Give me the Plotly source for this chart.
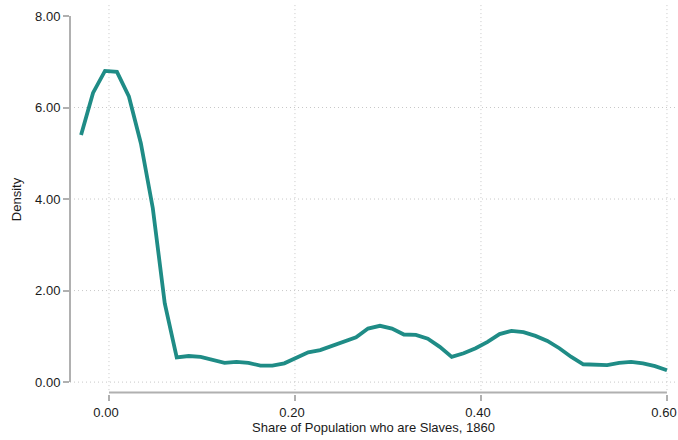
import plotly.graph_objects as go

# Data: kernel density of share of population who are slaves, 1860
x_start = -0.03
x_step = 0.63 / 49
density = [5.40, 6.32, 6.80, 6.78, 6.24, 5.22, 3.80, 1.72, 0.54, 0.57,
           0.55, 0.48, 0.42, 0.44, 0.42, 0.36, 0.36, 0.41, 0.53, 0.65,
           0.70, 0.79, 0.90, 0.98, 1.17, 1.23, 1.17, 1.04, 1.03, 0.95,
           0.77, 0.55, 0.63, 0.74, 0.88, 1.05, 1.12, 1.09, 1.01, 0.90,
           0.74, 0.55, 0.39, 0.37, 0.37, 0.42, 0.44, 0.41, 0.35, 0.26]
share = [x_start + i * x_step for i in range(len(density))]

x_ticks = [0.0, 0.2, 0.4, 0.6]
x_tick_labels = ["0.00", "0.20", "0.40", "0.60"]
y_ticks = [0, 2, 4, 6, 8]
y_tick_labels = ["0.00", "2.00", "4.00", "6.00", "8.00"]
y_grid = [0, 2, 4, 6]

LINE_COLOR = "#1f8c86"
AXIS_COLOR = "#b0b0b0"
GRID_COLOR = "#c8c8c8"
FONT = "Liberation Sans, Arial, sans-serif"

fig = go.Figure()
fig.add_trace(go.Scatter(
    x=share, y=density, mode="lines",
    line=dict(color=LINE_COLOR, width=3.8),
    hoverinfo="skip", showlegend=False,
))

shapes = []
for gy in y_grid:
    shapes.append(dict(type="line", xref="paper", x0=0, x1=1, yref="y", y0=gy, y1=gy,
                       line=dict(color=GRID_COLOR, width=1, dash="1px,3px"), layer="below"))
for gx in x_ticks:
    shapes.append(dict(type="line", xref="x", x0=gx, x1=gx, yref="paper", y0=0.01, y1=1,
                       line=dict(color=GRID_COLOR, width=1, dash="1px,3px"), layer="below"))
# offset axis lines
shapes.append(dict(type="line", xref="paper", x0=0, x1=0, yref="y", y0=0, y1=8,
                   line=dict(color=AXIS_COLOR, width=2)))
shapes.append(dict(type="line", xref="x", x0=0, x1=0.6, yref="paper", y0=0.004, y1=0.004,
                   line=dict(color=AXIS_COLOR, width=2)))

fig.update_layout(
    width=678, height=440,
    margin=dict(l=70, r=1, t=5, b=46),
    paper_bgcolor="white", plot_bgcolor="white",
    font=dict(family=FONT, size=13, color="#1a1a1a"),
    shapes=shapes,
    xaxis=dict(
        range=[-0.0419, 0.6108], showgrid=False, zeroline=False, showline=False,
        automargin=False, ticklabeloverflow="allow", ticklabelshift=-3,
        tickvals=x_ticks, ticktext=x_tick_labels,
        ticks="outside", ticklen=6, tickwidth=1.5, tickcolor=AXIS_COLOR,
        title=dict(text="Share of Population who are Slaves, 1860", standoff=4,
                   font=dict(size=13)),
    ),
    yaxis=dict(
        range=[-0.26, 8.24], showgrid=False, zeroline=False, showline=False,
        automargin=False, ticklabeloverflow="allow",
        tickvals=y_ticks, ticktext=y_tick_labels,
        ticks="outside", ticklen=6, tickwidth=1.5, tickcolor=AXIS_COLOR,
        title=dict(text="Density", standoff=10, font=dict(size=13)),
    ),
)

fig.write_html(
    "out.html",
    config={"displayModeBar": False},
    post_script="document.body.style.margin='0';document.body.style.overflow='hidden';",
)
